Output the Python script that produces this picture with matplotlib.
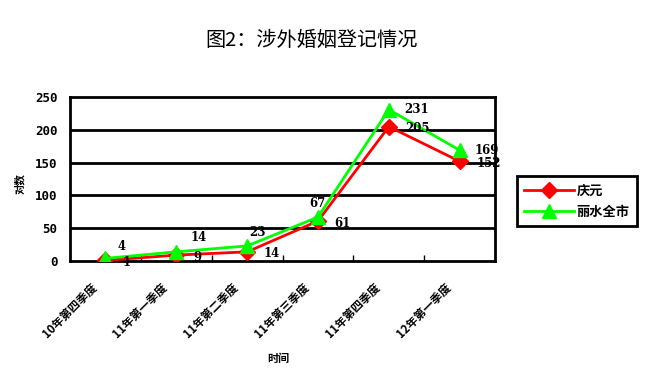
import numpy as np
import matplotlib.pyplot as plt

plt.rcParams['font.family'] = ['Noto Sans CJK SC', 'DejaVu Sans']

# 数据
quarters = ["10年第四季度", "11年第一季度", "11年第二季度",
            "11年第三季度", "11年第四季度", "12年第一季度"]
qingyuan = [1, 9, 14, 61, 205, 152]
lishui = [4, 14, 23, 67, 231, 169]

# 数据标签偏移 (points)
qy_offsets = [(12, -1.5)] * 6
ls_offsets = [(9, 8.5), (10, 10), (1.5, 10), (-6, 10), (11, 0), (11, 0)]

fig = plt.figure(figsize=(6.61, 3.75), dpi=100)
ax = fig.add_axes([0.106, 0.304, 0.643, 0.437])

x = np.arange(len(quarters))
ax.plot(x, qingyuan, color="#ff0000", lw=2, marker="D", ms=8,
        label="庆元", zorder=3)
ax.plot(x, lishui, color="#00ff00", lw=2, marker="^", ms=10,
        label="丽水全市", zorder=4)

for i in range(len(x)):
    ax.annotate(str(qingyuan[i]), (x[i], qingyuan[i]), xytext=qy_offsets[i],
                textcoords="offset points", ha="left", va="center",
                fontsize=8.5, fontweight="bold", family="DejaVu Serif", zorder=5)
    ax.annotate(str(lishui[i]), (x[i], lishui[i]), xytext=ls_offsets[i],
                textcoords="offset points", ha="left", va="center",
                fontsize=8.5, fontweight="bold", family="DejaVu Serif", zorder=5)

ax.set_xlim(-0.5, 5.5)
ax.set_ylim(0, 250)
ax.set_yticks([0, 50, 100, 150, 200, 250])
for yv in [50, 100, 150, 200]:
    ax.axhline(yv, color="black", lw=2, zorder=1)

# 类别标签 (斜45度)
ax.set_xticks(x)
ax.set_xticklabels([])
for i, q in enumerate(quarters):
    ax.annotate(q, (x[i], 0), xycoords=("data", "axes fraction"),
                xytext=(-11, -14), textcoords="offset points",
                rotation=45, rotation_mode="anchor", ha="right", va="top",
                fontsize=8.3, fontweight="bold")
ax.set_xticks(np.arange(0.5, 5.5, 1), minor=True)
ax.tick_params(axis="x", which="major", length=0)
ax.tick_params(axis="x", which="minor", direction="in", length=4, width=1)
ax.tick_params(axis="y", length=0, pad=9)
for lbl in ax.get_yticklabels():
    lbl.set_fontweight("bold")
    lbl.set_family("DejaVu Sans Mono")
    lbl.set_fontsize(9)

for s in ax.spines.values():
    s.set_linewidth(2)

ax.set_xlabel("时间", fontsize=8, fontweight="bold")
ax.xaxis.set_label_coords(0.49, -0.555)
ax.set_ylabel("对数", fontsize=7.5, fontweight="bold")
ax.yaxis.set_label_coords(-0.105, 0.47)

leg = fig.legend(loc="center left", bbox_to_anchor=(0.782, 0.464),
                 fontsize=9.5, frameon=True, fancybox=False, framealpha=1,
                 borderpad=0.55, handlelength=3.8, labelspacing=0.55,
                 handletextpad=0.15, borderaxespad=0)
leg.get_frame().set_edgecolor("black")
leg.get_frame().set_linewidth(2)
for t in leg.get_texts():
    t.set_fontweight("bold")

fig.text(0.472, 0.893, "图2：涉外婚姻登记情况", ha="center", va="center",
         fontsize=14.5)

fig.savefig("out.png", dpi=100)
